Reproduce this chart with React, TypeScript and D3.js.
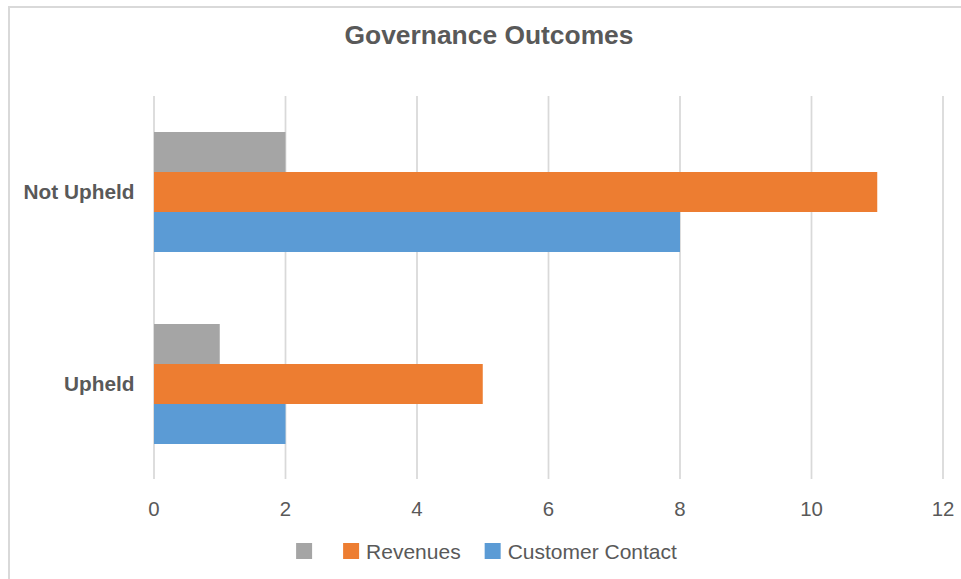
import React from "react";
import * as d3 from "d3";

const categories = ["Not Upheld", "Upheld"];
const seriesNames = ["", "Revenues", "Customer Contact"];
const seriesColors = ["#A5A5A5", "#ED7D31", "#5B9BD5"];
const unnamedValues = [2, 1];
const revenuesValues = [11, 5];
const customerContactValues = [8, 2];
const seriesValues = [unnamedValues, revenuesValues, customerContactValues];
const xTicks = [0, 2, 4, 6, 8, 10, 12];
const titleText = "Governance Outcomes";

const W = 961;
const H = 579;
const FONT = "'Liberation Sans', Arial, Helvetica, sans-serif";
const TEXT = "#595959";
const GRID = "#D9D9D9";

function measure(text: string, font: string): number {
  if (typeof document === "undefined") return text.length * 10;
  const c = document.createElement("canvas");
  const ctx = c.getContext("2d");
  if (!ctx) return text.length * 10;
  ctx.font = font;
  return ctx.measureText(text).width;
}

export default function App() {
  const x = d3.scaleLinear().domain([0, 12]).range([154, 943]);
  const y = d3
    .scaleBand<string>()
    .domain(categories)
    .range([96, 480])
    .paddingInner(0.375)
    .paddingOuter(0.1875);
  const ySub = d3
    .scaleBand<string>()
    .domain(seriesNames.map((_, i) => String(i)))
    .range([0, y.bandwidth()]);

  // legend layout
  const legendFont = `21px ${FONT}`;
  const sq = 16;
  const gapText = 7;
  const gapEntry = 24;
  const widths = seriesNames.map((n) => (n ? measure(n, legendFont) : 0));
  const entryWidths = widths.map((w) => sq + gapText + w);
  const total = entryWidths.reduce((a, b) => a + b, 0) + gapEntry * (entryWidths.length - 1);
  let lx = 486.5 - total / 2;
  const legendItems = seriesNames.map((n, i) => {
    const item = { name: n, color: seriesColors[i], x: lx };
    lx += entryWidths[i] + gapEntry;
    return item;
  });

  return (
    <svg
      width={W}
      height={H}
      style={{ position: "absolute", left: 0, top: 0, display: "block", background: "#fff" }}
      fontFamily={FONT}
    >
      <rect x={0} y={0} width={W} height={H} fill="#fff" />
      <rect x={9} y={7} width={W + 20} height={H + 20} fill="#fff" stroke={GRID} strokeWidth={2} />
      <text x={489} y={44} textAnchor="middle" fontSize={26.4} fontWeight="bold" fill={TEXT}>
        {titleText}
      </text>
      {xTicks.map((t) => (
        <line key={"g" + t} x1={x(t)} x2={x(t)} y1={96} y2={479} stroke={GRID} strokeWidth={1.75} />
      ))}
      {categories.map((c, ci) =>
        seriesValues.map((vals, si) => (
          <rect
            key={c + si}
            x={x(0)}
            y={(y(c) as number) + (ySub(String(si)) as number)}
            width={x(vals[ci]) - x(0)}
            height={ySub.bandwidth()}
            fill={seriesColors[si]}
          />
        ))
      )}
      {categories.map((c) => (
        <text
          key={"l" + c}
          x={134.5}
          y={(y(c) as number) + y.bandwidth() / 2}
          dy="0.36em"
          textAnchor="end"
          fontSize={20.8}
          fontWeight="bold"
          fill={TEXT}
        >
          {c}
        </text>
      ))}
      {xTicks.map((t) => (
        <text key={"t" + t} x={x(t)} y={516} textAnchor="middle" fontSize={20.4} fill={TEXT}>
          {t}
        </text>
      ))}
      {legendItems.map((it, i) => (
        <g key={"lg" + i}>
          <rect x={it.x} y={543} width={sq} height={sq} fill={it.color} />
          {it.name ? (
            <text x={it.x + sq + gapText} y={558.5} fontSize={21} fill={TEXT}>
              {it.name}
            </text>
          ) : null}
        </g>
      ))}
    </svg>
  );
}
